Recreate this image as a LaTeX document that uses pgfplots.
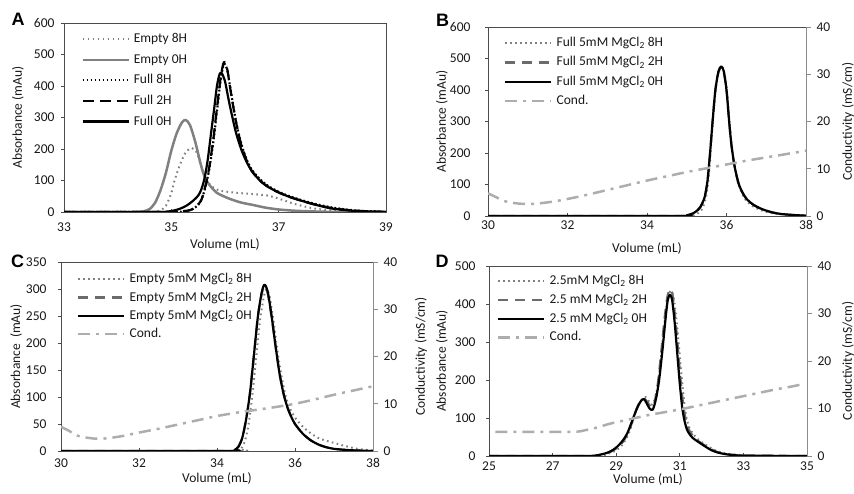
\documentclass[border=0pt]{standalone}
\usepackage{fontspec}
\setmainfont{Carlito}
\newfontfamily\letterfont{Liberation Sans}
\usepackage{pgfplots}
\pgfplotsset{compat=1.18}

\definecolor{axisdark}{gray}{0.3}
\definecolor{axisright}{gray}{0.55}
\definecolor{emptygray}{gray}{0.5}
\definecolor{dashgray}{gray}{0.42}
\definecolor{condgray}{gray}{0.68}
\definecolor{txt}{gray}{0.1}

\newcommand{\myfs}{\fontsize{13.5}{16}\selectfont}

\pgfplotsset{
  panel/.style={
    scale only axis, enlargelimits=false, ymin=0, no markers,
    axis line style={axisdark, line width=0.9pt},
    tick align=inside, major tick length=3pt,
    tick style={axisdark, line width=0.7pt},
    ytick style={xshift=-3pt},
    xtick pos=left, ytick pos=left,
    tick label style={font=\myfs, text=txt},
    /pgf/number format/assume math mode=true,
    label style={font=\myfs, text=txt},
    legend cell align=left,
    legend style={draw=none, fill=none, anchor=north west, inner sep=0pt,
      column sep=4pt, font=\myfs, text=txt,
      nodes={inner sep=0pt, text height=10pt, text depth=3pt}},
    legend image code/.code={\draw[##1] (0pt,0pt) -- (46pt,0pt);},
    every axis plot/.append style={line join=round, smooth, tension=0.45},
  },
  condaxis/.style={
    scale only axis, enlargelimits=false, ymin=0, ymax=40, ytick={0,10,20,30,40},
    axis x line=none, axis y line=right,
    y axis line style={axisright, line width=0.9pt, -},
    tick align=outside, major tick length=5pt,
    tick style={axisright, line width=0.7pt},
    tick label style={font=\myfs, text=txt},
    yticklabel style={xshift=2pt},
    /pgf/number format/assume math mode=true,
    label style={font=\myfs, text=txt},
    ylabel={Conductivity (mS/cm)},
  },
  blk/.style={black, line width=2.2pt},
  dotblk/.style={black, line width=2.2pt, dash pattern=on 1.8pt off 2.2pt},
  dashblk/.style={black, line width=2.2pt, dash pattern=on 11pt off 6pt},
  dotgry/.style={emptygray, line width=2pt, dash pattern=on 1.6pt off 3.4pt},
  dashgry/.style={dashgray, line width=2.2pt, dash pattern=on 10pt off 7pt},
  solgry/.style={emptygray, line width=2.5pt},
  cond/.style={condgray, line width=2.5pt, dash pattern=on 12pt off 6pt on 3pt off 6pt},
}

\begin{document}
\begin{tikzpicture}
\useasboundingbox (0,0) rectangle (854pt,494pt);

% ---------------- A ----------------
\begin{axis}[panel, at={(64pt,282pt)}, width=322pt, height=189pt,
  xmin=33, xmax=39, ymax=600, xtick={33,35,37,39}, ytick={0,100,...,600},
  xticklabel style={yshift=-7pt}, yticklabel style={xshift=-6pt},
  ylabel={Absorbance (mAu)}, xlabel={Volume (mL)},
  ylabel style={at={(axis description cs:-0.143,0.5)}, anchor=center},
  xlabel style={at={(axis description cs:0.5,-0.17)}, anchor=center},
  legend style={at={(axis description cs:0.053,0.95)}, row sep=7.6pt}]
\addplot[dotgry] coordinates {(33,0) (34.6,0) (34.72,1) (34.8,5) (34.9,20) (35.0,60) (35.06,100) (35.16,150) (35.27,190) (35.38,203) (35.47,190) (35.55,150) (35.62,115) (35.68,95) (35.78,78) (35.9,68) (36.15,62) (36.5,57) (36.77,53) (36.95,45) (37.08,38) (37.25,28) (37.4,21) (37.6,13) (37.8,8) (38.1,4) (38.5,1.5) (39,0)};
\addlegendentry{Empty 8H}
\addplot[solgry] coordinates {(33,0) (34.3,0) (34.5,3) (34.6,10) (34.7,30) (34.8,70) (34.9,125) (35.0,195) (35.1,250) (35.2,285) (35.27,292) (35.35,275) (35.45,220) (35.55,150) (35.62,112) (35.7,88) (35.84,62) (36.0,48) (36.15,38) (36.3,30) (36.53,22) (36.75,14) (37.0,8) (37.3,4) (37.6,2) (38,0.5) (39,0)};
\addlegendentry{Empty 0H}
\addplot[dotblk] coordinates {(33,0) (35.0,0) (35.2,2) (35.35,6) (35.45,15) (35.55,35) (35.62,70) (35.7,130) (35.78,220) (35.85,320) (35.92,420) (35.98,470) (36.04,452) (36.1,392) (36.2,292) (36.3,218) (36.4,168) (36.5,134) (36.65,104) (36.8,83) (37.0,64) (37.2,50) (37.4,39) (37.6,29) (37.8,21) (38.0,14) (38.3,7) (38.6,3) (39,0)};
\addlegendentry{Full 8H}
\addplot[dashblk] coordinates {(33,0) (35.0,0) (35.2,2) (35.35,6) (35.45,15) (35.55,35) (35.62,72) (35.7,135) (35.78,228) (35.85,330) (35.92,428) (35.98,476) (36.04,455) (36.1,390) (36.2,290) (36.3,215) (36.4,165) (36.5,130) (36.65,100) (36.8,80) (37.0,62) (37.2,48) (37.4,37) (37.6,27) (37.8,19) (38.0,12) (38.3,6) (38.6,2.5) (39,0)};
\addlegendentry{Full 2H}
\addplot[blk] coordinates {(33,0) (34.8,0) (34.9,1) (35.0,3) (35.1,7) (35.2,13) (35.3,22) (35.4,35) (35.5,52) (35.56,72) (35.62,108) (35.68,168) (35.74,250) (35.8,330) (35.85,400) (35.9,438) (35.94,441) (36.0,415) (36.05,372) (36.1,330) (36.2,255) (36.3,200) (36.4,160) (36.5,130) (36.65,100) (36.8,80) (37.0,62) (37.2,48) (37.4,37) (37.6,27) (37.8,18) (38.0,11) (38.3,5) (38.6,2) (39,0)};
\addlegendentry{Full 0H}
\end{axis}

% ---------------- B ----------------
\begin{axis}[panel, at={(488pt,278pt)}, width=318pt, height=189pt,
  xmin=30, xmax=38, ymax=600, xtick={30,32,...,38}, ytick={0,100,...,600},
  xticklabel style={yshift=-1pt}, yticklabel style={xshift=-14pt},
  ylabel={Absorbance (mAu)}, xlabel={Volume (mL)},
  ylabel style={at={(axis description cs:-0.145,0.5)}, anchor=center},
  xlabel style={at={(axis description cs:0.5,-0.17)}, anchor=center},
  legend style={at={(axis description cs:0.05,0.95)}, row sep=6.3pt}]
\addplot[dotgry] coordinates {(30,0) (34.9,0) (35.1,2) (35.3,10) (35.4,25) (35.5,70) (35.57,150) (35.63,260) (35.7,370) (35.78,445) (35.86,470) (35.93,462) (36.0,410) (36.06,320) (36.12,235) (36.2,160) (36.3,100) (36.4,68) (36.5,48) (36.65,32) (36.8,22) (37,13) (37.3,6) (37.7,2) (38,0.5)};
\addlegendentry{Full 5mM MgCl\textsubscript{2} 8H}
\addplot[dashgry] coordinates {(30,0) (34.8,0) (35.0,2) (35.15,8) (35.25,16) (35.35,30) (35.45,60) (35.52,110) (35.58,190) (35.65,300) (35.72,400) (35.8,458) (35.87,472) (35.93,458) (36.0,400) (36.06,310) (36.12,230) (36.2,160) (36.3,105) (36.4,75) (36.5,55) (36.65,38) (36.8,27) (37.0,17) (37.2,10) (37.4,6) (37.7,3) (38,1)};
\addlegendentry{Full 5mM MgCl\textsubscript{2} 2H}
\addplot[blk] coordinates {(30,0) (34.8,0) (35.0,2) (35.15,8) (35.25,16) (35.35,30) (35.45,60) (35.52,110) (35.58,190) (35.65,300) (35.72,400) (35.8,460) (35.87,475) (35.93,460) (36.0,400) (36.06,310) (36.12,230) (36.2,160) (36.3,105) (36.4,75) (36.5,55) (36.65,38) (36.8,27) (37.0,17) (37.2,10) (37.4,6) (37.7,3) (38,1)};
\addlegendentry{Full 5mM MgCl\textsubscript{2} 0H}
\addlegendimage{cond}
\addlegendentry{Cond.}
\end{axis}
\begin{axis}[condaxis, at={(488pt,278pt)}, width=318pt, height=189pt, xmin=30, xmax=38,
  ylabel style={at={(axis description cs:1.132,0.5)}, anchor=center}]
\addplot[cond, smooth, tension=0.45] coordinates {(30,4.8) (30.2,4.0) (30.4,3.2) (30.6,2.8) (30.9,2.55) (31.2,2.6) (31.6,3.0) (32,3.6) (32.5,4.5) (33,5.5) (33.5,6.5) (34,7.5) (34.5,8.4) (35,9.3) (35.5,10.1) (36,10.9) (36.5,11.7) (37,12.4) (37.5,13.1) (38,13.8)};
\end{axis}

% ---------------- C ----------------
\begin{axis}[panel, at={(61pt,43pt)}, width=312pt, height=189pt,
  xmin=30, xmax=38, ymax=350, xtick={30,32,...,38}, ytick={0,50,...,350},
  xticklabel style={yshift=-4pt}, yticklabel style={xshift=-11pt},
  ylabel={Absorbance\ \ (mAu)}, xlabel={Volume (mL)},
  ylabel style={at={(axis description cs:-0.144,0.5)}, anchor=center},
  xlabel style={at={(axis description cs:0.5,-0.143)}, anchor=center},
  legend style={at={(axis description cs:0.051,0.944)}, row sep=5.3pt}]
\addplot[dotgry] coordinates {(30,0) (34.5,0) (34.6,3) (34.7,15) (34.8,45) (34.9,100) (35.0,170) (35.1,240) (35.2,285) (35.27,300) (35.35,285) (35.45,240) (35.55,185) (35.65,140) (35.75,105) (35.85,82) (36.0,62) (36.2,45) (36.4,33) (36.6,24) (36.8,19) (37.0,15) (37.3,9) (37.6,4) (37.9,1.5) (38,1)};
\addlegendentry{Empty 5mM MgCl\textsubscript{2} 8H}
\addplot[dashgry] coordinates {(30,0) (34.3,0) (34.45,2) (34.55,8) (34.65,25) (34.75,60) (34.85,110) (34.95,180) (35.05,250) (35.15,292) (35.22,305) (35.3,292) (35.4,248) (35.5,195) (35.6,145) (35.7,108) (35.8,82) (35.9,64) (36.0,50) (36.2,32) (36.4,20) (36.6,12) (36.8,7) (37.0,4) (37.4,1.5) (38,0)};
\addlegendentry{Empty 5mM MgCl\textsubscript{2} 2H}
\addplot[blk] coordinates {(30,0) (34.3,0) (34.45,2) (34.55,8) (34.65,25) (34.75,60) (34.85,110) (34.95,180) (35.05,250) (35.15,295) (35.22,308) (35.3,295) (35.4,250) (35.5,195) (35.6,145) (35.7,108) (35.8,82) (35.9,64) (36.0,50) (36.2,32) (36.4,20) (36.6,12) (36.8,7) (37.0,4) (37.4,1.5) (38,0)};
\addlegendentry{Empty 5mM MgCl\textsubscript{2} 0H}
\addlegendimage{cond}
\addlegendentry{Cond.}
\end{axis}
\begin{axis}[condaxis, at={(61pt,43pt)}, width=312pt, height=189pt, xmin=30, xmax=38,
  ylabel style={at={(axis description cs:1.154,0.5)}, anchor=center}]
\addplot[cond, smooth, tension=0.45] coordinates {(30,5.1) (30.2,4.3) (30.4,3.3) (30.6,2.9) (30.9,2.6) (31.2,2.7) (31.6,3.2) (32,3.9) (32.5,4.7) (33,5.6) (33.5,6.5) (34,7.4) (34.5,8.1) (35,8.7) (35.5,9.3) (36,10.0) (36.5,10.9) (37,11.9) (37.5,12.8) (38,13.7)};
\end{axis}

% ---------------- D ----------------
\begin{axis}[panel, at={(489pt,38pt)}, width=318pt, height=190pt,
  xmin=25, xmax=35, ymax=500, xtick={25,27,...,35}, ytick={0,100,...,500},
  xticklabel style={yshift=-2pt}, yticklabel style={xshift=-10pt},
  ylabel={Absorbance (mAu)}, xlabel={Volume (mL)},
  ylabel style={at={(axis description cs:-0.148,0.5)}, anchor=center},
  xlabel style={at={(axis description cs:0.5,-0.126)}, anchor=center},
  legend style={at={(axis description cs:0.025,0.955)}, row sep=5.7pt}]
\addplot[dotgry] coordinates {(25,0) (28.3,0) (28.7,5) (29.0,15) (29.2,30) (29.4,60) (29.55,100) (29.7,135) (29.85,153) (29.93,155) (30.02,145) (30.12,135) (30.22,150) (30.32,195) (30.42,270) (30.52,350) (30.62,415) (30.72,435) (30.8,420) (30.88,370) (30.96,300) (31.04,225) (31.12,155) (31.2,105) (31.3,75) (31.45,55) (31.6,42) (31.8,30) (32,20) (32.2,12) (32.5,6) (33,2) (33.5,0.5) (35,0)};
\addlegendentry{2.5mM MgCl\textsubscript{2} 8H}
\addplot[dashgry] coordinates {(25,0) (28.1,0) (28.5,3) (28.8,10) (29.0,20) (29.2,36) (29.4,65) (29.55,102) (29.7,135) (29.82,150) (29.9,150) (30.0,140) (30.1,128) (30.2,140) (30.3,185) (30.4,260) (30.5,345) (30.6,415) (30.7,440) (30.78,420) (30.86,360) (30.94,285) (31.02,205) (31.1,140) (31.18,98) (31.28,70) (31.42,52) (31.6,38) (31.8,27) (32,17) (32.2,10) (32.5,5) (33,1.5) (35,0)};
\addlegendentry{2.5 mM MgCl\textsubscript{2} 2H}
\addplot[blk] coordinates {(25,0) (28.0,0) (28.4,2) (28.7,8) (28.9,16) (29.05,26) (29.2,40) (29.35,60) (29.5,92) (29.65,125) (29.78,145) (29.87,150) (29.95,140) (30.05,125) (30.15,122) (30.25,150) (30.35,200) (30.45,275) (30.55,360) (30.62,410) (30.69,424) (30.76,410) (30.84,350) (30.92,270) (31.0,190) (31.08,125) (31.16,88) (31.25,65) (31.4,48) (31.6,36) (31.8,25) (32.0,15) (32.2,9) (32.5,4) (33,1) (35,0)};
\addlegendentry{2.5 mM MgCl\textsubscript{2} 0H}
\addlegendimage{cond}
\addlegendentry{Cond.}
\end{axis}
\begin{axis}[condaxis, at={(489pt,38pt)}, width=318pt, height=190pt, xmin=25, xmax=35,
  ylabel style={at={(axis description cs:1.129,0.5)}, anchor=center}]
\addplot[cond, smooth, tension=0.45] coordinates {(25.2,5.1) (27.6,5.1) (28.0,5.4) (28.4,6.0) (28.8,6.8) (29.2,7.4) (29.6,8.0) (30,8.6) (30.5,9.2) (31,9.8) (31.5,10.5) (32,11.2) (32.5,11.9) (33,12.6) (33.5,13.3) (34,14.0) (34.5,14.6) (34.85,15.1)};
\end{axis}

% panel letters
\node[font=\letterfont\bfseries\fontsize{18}{18}\selectfont] at (18pt,474.5pt) {A};
\node[font=\letterfont\bfseries\fontsize{18}{18}\selectfont] at (442.5pt,474pt) {B};
\node[font=\letterfont\bfseries\fontsize{18}{18}\selectfont] at (17.5pt,233pt) {C};
\node[font=\letterfont\bfseries\fontsize{18}{18}\selectfont] at (442pt,233pt) {D};
\end{tikzpicture}
\end{document}
